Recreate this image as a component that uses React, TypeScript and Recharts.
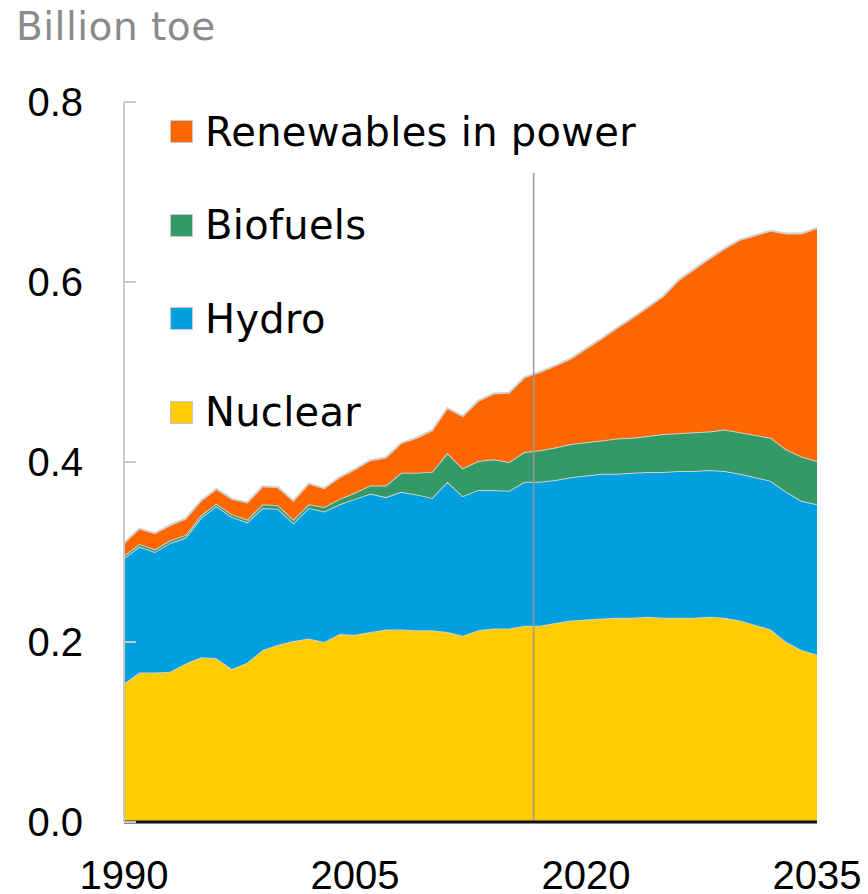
import { AreaChart, Area, XAxis, YAxis, Legend, ReferenceLine } from 'recharts';

const years = [
  1990, 1991, 1992, 1993, 1994, 1995, 1996, 1997, 1998, 1999,
  2000, 2001, 2002, 2003, 2004, 2005, 2006, 2007, 2008, 2009,
  2010, 2011, 2012, 2013, 2014, 2015, 2016, 2017, 2018, 2019,
  2020, 2021, 2022, 2023, 2024, 2025, 2026, 2027, 2028, 2029,
  2030, 2031, 2032, 2033, 2034, 2035,
];

const nuclear = [
  0.154, 0.166, 0.166, 0.167, 0.176, 0.183, 0.182, 0.170, 0.177, 0.191,
  0.197, 0.201, 0.204, 0.200, 0.209, 0.208, 0.211, 0.214, 0.214, 0.213,
  0.213, 0.211, 0.207, 0.213, 0.215, 0.215, 0.218, 0.218, 0.221, 0.224,
  0.225, 0.226, 0.227, 0.227, 0.228, 0.227, 0.227, 0.227, 0.228, 0.227,
  0.224, 0.219, 0.214, 0.200, 0.191, 0.186,
];

const hydro = [
  0.139, 0.140, 0.134, 0.143, 0.140, 0.155, 0.169, 0.169, 0.156, 0.158,
  0.151, 0.131, 0.145, 0.145, 0.144, 0.151, 0.154, 0.147, 0.153, 0.151,
  0.147, 0.167, 0.155, 0.156, 0.154, 0.153, 0.160, 0.160, 0.159, 0.159,
  0.160, 0.161, 0.160, 0.161, 0.161, 0.162, 0.163, 0.163, 0.163, 0.163,
  0.163, 0.164, 0.165, 0.167, 0.166, 0.167,
];

const biofuels = [
  0.003, 0.003, 0.003, 0.003, 0.003, 0.003, 0.003, 0.003, 0.003, 0.004,
  0.004, 0.004, 0.004, 0.005, 0.006, 0.007, 0.009, 0.013, 0.021, 0.024,
  0.029, 0.032, 0.031, 0.032, 0.034, 0.032, 0.033, 0.035, 0.036, 0.037,
  0.037, 0.037, 0.039, 0.039, 0.040, 0.042, 0.042, 0.043, 0.043, 0.046,
  0.046, 0.047, 0.048, 0.047, 0.049, 0.048,
];

const renewables = [
  0.014, 0.017, 0.018, 0.017, 0.018, 0.016, 0.016, 0.017, 0.019, 0.020,
  0.020, 0.021, 0.023, 0.021, 0.024, 0.026, 0.028, 0.031, 0.033, 0.039,
  0.046, 0.050, 0.058, 0.067, 0.073, 0.077, 0.083, 0.087, 0.091, 0.095,
  0.104, 0.113, 0.123, 0.133, 0.143, 0.153, 0.170, 0.181, 0.192, 0.201,
  0.214, 0.222, 0.230, 0.240, 0.248, 0.259,
];

const xTicks = [1990, 2005, 2020, 2035];
const yTicks = [0, 0.2, 0.4, 0.6, 0.8];
const projectionStart = 2016.6;

const series = [
  { key: 'nuclear', name: 'Nuclear', color: '#FFCC00' },
  { key: 'hydro', name: 'Hydro', color: '#009FDF' },
  { key: 'biofuels', name: 'Biofuels', color: '#339966' },
  { key: 'renewables', name: 'Renewables in power', color: '#FF6600' },
];

const chartData = years.map((year, i) => ({
  year,
  nuclear: nuclear[i],
  hydro: hydro[i],
  biofuels: biofuels[i],
  renewables: renewables[i],
}));

const tickFont = '"Liberation Sans", Arial, sans-serif';
const textFont = '"DejaVu Sans", sans-serif';

// tick marks point inwards, labels sit left of the axis
const YTick = (props: any) => {
  const { x, y, payload } = props;
  return (
    <g>
      <line x1={x + 41} x2={x + 53} y1={y} y2={y} stroke="#c8c8c8" strokeWidth={2} />
      <text x={x} y={y} dy={14} textAnchor="end" fontSize={40} fontFamily={tickFont} fill="#000">
        {Number(payload.value).toFixed(1)}
      </text>
    </g>
  );
};

const LegendBox = () => (
  <div>
    {[...series].reverse().map(s => (
      <div key={s.key} style={{ display: 'flex', alignItems: 'center', height: 93.5 }}>
        <div
          style={{
            width: 21,
            height: 21,
            background: s.color,
            border: '1.5px solid #c8c8c8',
            marginRight: 12,
          }}
        />
        <span
          style={{
            fontFamily: textFont,
            fontSize: 40,
            lineHeight: 1,
            letterSpacing: 0.3,
            color: '#000',
            whiteSpace: 'nowrap',
          }}
        >
          {s.name}
        </span>
      </div>
    ))}
  </div>
);

export default function App() {
  return (
    <div style={{ position: 'absolute', left: 0, top: 0, width: 868, height: 894 }}>
      <div
        style={{
          position: 'absolute',
          left: 16,
          top: 7,
          fontFamily: textFont,
          fontSize: 39,
          lineHeight: 1,
          letterSpacing: 0.5,
          color: '#8a8a8a',
          whiteSpace: 'nowrap',
        }}
      >
        Billion toe
      </div>
      <AreaChart width={868} height={894} data={chartData} margin={{ top: 102, right: 51, bottom: 0, left: 0 }}>
        {series.map(s => (
          <Area
            key={s.key}
            type="linear"
            dataKey={s.key}
            name={s.name}
            stackId="1"
            stroke="#d0d0d0"
            strokeWidth={2}
            fill={s.color}
            fillOpacity={1}
            isAnimationActive={false}
          />
        ))}
        <XAxis
          dataKey="year"
          type="number"
          domain={[1990, 2035]}
          ticks={xTicks}
          height={72}
          tickLine={false}
          tickSize={6}
          tickMargin={33}
          axisLine={{ stroke: '#111', strokeWidth: 3 }}
          tick={{ fontSize: 40, fontFamily: tickFont, fill: '#000' }}
          interval={0}
        />
        <YAxis
          type="number"
          domain={[0, 0.8]}
          ticks={yTicks}
          width={124}
          tickLine={false}
          tickSize={6}
          tickMargin={35}
          axisLine={{ stroke: '#c8c8c8', strokeWidth: 2 }}
          tick={<YTick />}
          interval={0}
        />
        <ReferenceLine
          segment={[{ x: projectionStart, y: 0 }, { x: projectionStart, y: 0.721 }]}
          stroke="#999"
          strokeWidth={1.5}
        />
        <Legend
          layout="vertical"
          align="center"
          verticalAlign="middle"
          content={<LegendBox />}
          wrapperStyle={{ left: 170, top: 85, width: 500, height: 380 }}
        />
      </AreaChart>
    </div>
  );
}
